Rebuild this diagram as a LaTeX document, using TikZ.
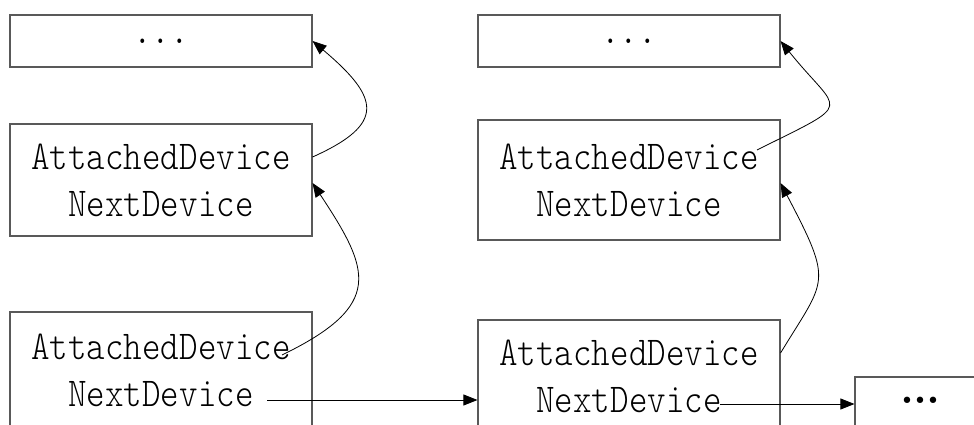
\documentclass[tikz,border=0pt]{standalone}
\usepackage{fontspec}
\setmonofont{lmmonolt10-regular.otf}[FakeStretch=0.86]
\newfontfamily\dotsfont{DejaVu Sans}
\usetikzlibrary{arrows.meta}
\begin{document}
\begin{tikzpicture}[x=1pt,y=-1pt,
  box/.style={draw=black!65, line width=1.1pt, minimum width=302pt, inner sep=0pt,
    font=\ttfamily\fontsize{41}{47}\selectfont, align=center},
  link/.style={draw=black, line width=0.8pt, -{Triangle[length=14pt,width=11pt]}}]
\useasboundingbox (0,0) rectangle (974,425);
\clip (0,0) rectangle (974,425);

% left column
\node[box, minimum height=52pt]  (t1) at (161,41)  {...};
\node[box, minimum height=112pt] (m1) at (161,180) {AttachedDevice\\NextDevice};
\node[box, minimum height=116pt] (b1) at (161,370) {AttachedDevice\\NextDevice};

% right column
\node[box, minimum height=52pt]  (t2) at (629,41)  {...};
\node[box, minimum height=120pt] (m2) at (629,180) {AttachedDevice\\NextDevice};
\node[box, minimum height=112pt] (b2) at (629,376) {AttachedDevice\\NextDevice};

% next element of the chain
\node[box, minimum width=130pt, minimum height=66pt] (f) at (920,410) {};
\node[anchor=base, inner sep=0pt, font=\dotsfont\fontsize{22}{22}\selectfont]
  (fdots) at (920,408) {•••};

% AttachedDevice pointers
\draw[link] ([yshift=23pt]m1.east) .. controls (386,124) and (380,98) .. (t1.east);
\draw[link] ([xshift=121pt,yshift=15pt]b1.center) .. controls (385,305) and (370,270) .. ([yshift=-3pt]m1.east);
\draw[link] ([xshift=128pt,yshift=30pt]m2.center) .. controls (857,100) and (840,115) .. (t2.east);
\draw[link] ([yshift=23pt]b2.east) .. controls (826,278) and (834,285) .. ([yshift=-3pt]m2.east);

% NextDevice pointers
\coordinate (n1) at ([xshift=106pt,yshift=-30pt]b1.center);
\coordinate (n2) at ([xshift=91pt,yshift=-28pt]b2.center);
\draw[link] (n1) -- (n1 -| b2.west);
\draw[link] (n2) -- (n2 -| f.west);
\end{tikzpicture}
\end{document}
